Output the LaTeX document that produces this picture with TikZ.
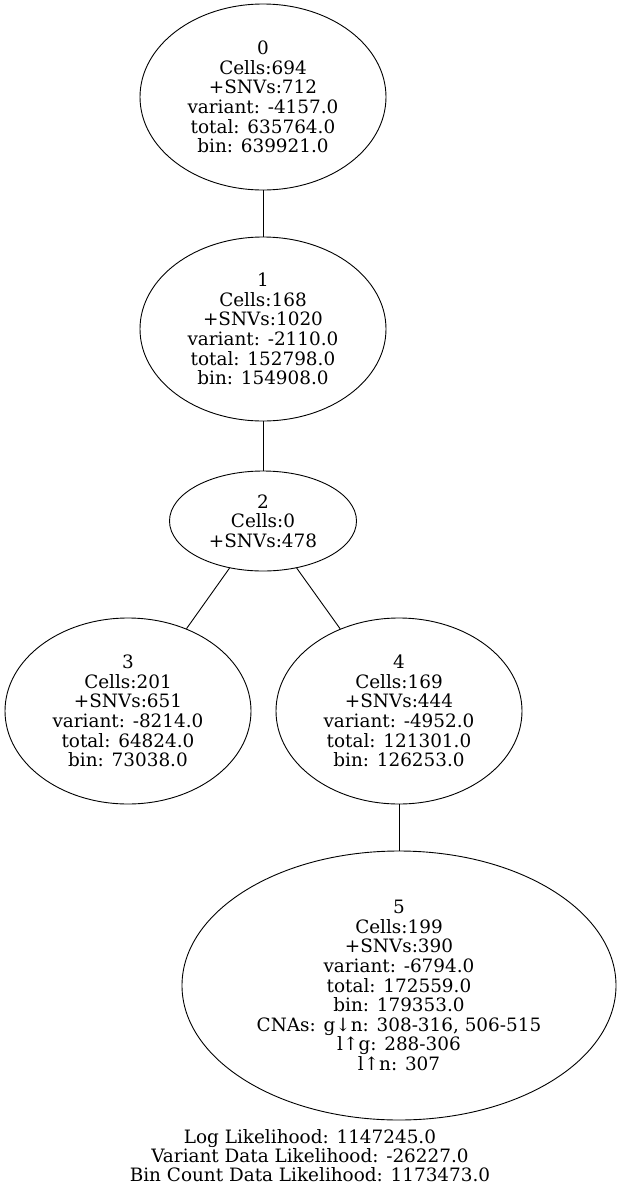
\documentclass[tikz,border=0pt]{standalone}
\usepackage{fontspec}
\setmainfont{DejaVu Serif}
\usetikzlibrary{shapes.geometric}
\begin{document}
\begin{tikzpicture}[x=1pt,y=-1pt,
  tn/.style={ellipse,draw,line width=0.9pt,inner sep=0pt,align=center,font=\fontsize{18.4}{19.6}\selectfont},
  edge/.style={draw,line width=0.9pt}]
\useasboundingbox (0,0) rectangle (622,1192);
\node[tn,minimum width=246,minimum height=186] (n0) at (263,97) {0\\Cells:694\\+SNVs:712\\variant: -4157.0\\total: 635764.0\\bin: 639921.0};
\node[tn,minimum width=246,minimum height=184] (n1) at (263,329) {1\\Cells:168\\+SNVs:1020\\variant: -2110.0\\total: 152798.0\\bin: 154908.0};
\node[tn,minimum width=187,minimum height=100] (n2) at (263,521) {2\\Cells:0\\+SNVs:478};
\node[tn,minimum width=246,minimum height=186] (n3) at (128,711) {3\\Cells:201\\+SNVs:651\\variant: -8214.0\\total: 64824.0\\bin: 73038.0};
\node[tn,minimum width=246,minimum height=186] (n4) at (399,711) {4\\Cells:169\\+SNVs:444\\variant: -4952.0\\total: 121301.0\\bin: 126253.0};
\node[tn,minimum width=434,minimum height=269] (n5) at (399,985.5) {5\\Cells:199\\+SNVs:390\\variant: -6794.0\\total: 172559.0\\bin: 179353.0\\CNAs: g↓n: 308-316, 506-515\\l↑g: 288-306\\l↑n: 307};
\draw[edge] (n0) -- (n1);
\draw[edge] (n1) -- (n2);
\draw[edge] (n2) -- (n3);
\draw[edge] (n2) -- (n4);
\draw[edge] (n4) -- (n5);
\node[align=center,inner sep=0pt,font=\fontsize{18.4}{19}\selectfont] (lk) at (310,1156) {Log Likelihood: 1147245.0\\Variant Data Likelihood: -26227.0\\Bin Count Data Likelihood: 1173473.0};
\end{tikzpicture}
\end{document}
